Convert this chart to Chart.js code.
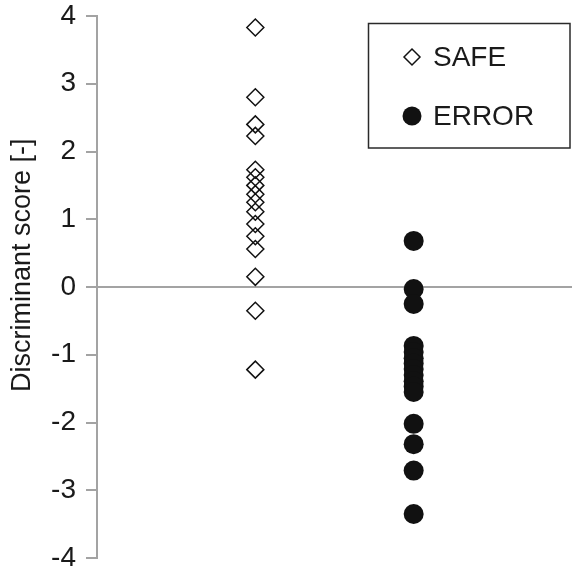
<!DOCTYPE html>
<html>
<head>
<meta charset="utf-8">
<script src="https://cdn.jsdelivr.net/npm/chart.js@4/dist/chart.umd.min.js"></script>
<style>
  html, body { margin: 0; padding: 0; background: #fff; }
  #wrap { width: 572px; height: 572px; }
</style>
</head>
<body>
<div id="wrap"><canvas id="c" width="572" height="572"></canvas></div>
<script>
const seriesLabels = ["SAFE", "ERROR"];
const safeValues = [3.83, 2.80, 2.40, 2.23, 1.73, 1.62, 1.50, 1.37, 1.25, 1.11, 0.93, 0.75, 0.56, 0.15, -0.35, -1.22];
const errorValues = [0.68, -0.03, -0.25, -0.87, -0.96, -1.05, -1.13, -1.21, -1.30, -1.39, -1.47, -1.55, -2.02, -2.32, -2.71, -3.35];
const groupPositions = [1, 2];
const yTicks = [-4, -3, -2, -1, 0, 1, 2, 3, 4];
const yTitle = "Discriminant score [-]";

const FONT = "'Liberation Sans', Arial, Helvetica, sans-serif";
const GRAY = "#a3a3a3";
const TEXT = "#1a1a1a";

const legendBox = {
  id: 'legendBox',
  afterDraw(chart) {
    const ctx = chart.ctx;
    ctx.save();
    // y-axis title
    ctx.save();
    ctx.translate(30, 392);
    ctx.rotate(-Math.PI / 2);
    ctx.font = "27px " + FONT;
    ctx.fillStyle = TEXT;
    ctx.textAlign = 'left';
    ctx.textBaseline = 'alphabetic';
    ctx.fillText(yTitle, 0, 0);
    ctx.restore();

    // legend box
    ctx.strokeStyle = "#2a2a2a";
    ctx.lineWidth = 1.5;
    ctx.strokeRect(368.5, 23.5, 201.5, 124.5);
    const rows = [57, 116];
    chart.data.datasets.forEach((ds, i) => {
      const y = rows[i];
      const x = 412;
      ctx.beginPath();
      if (i === 0) {
        const r = 8;
        ctx.moveTo(x - r, y); ctx.lineTo(x, y - r); ctx.lineTo(x + r, y); ctx.lineTo(x, y + r); ctx.closePath();
        ctx.lineWidth = 1.5; ctx.strokeStyle = "#111"; ctx.stroke();
      } else {
        ctx.arc(x, y, 9.5, 0, Math.PI * 2);
        ctx.fillStyle = "#111"; ctx.fill();
      }
      ctx.font = "28px " + FONT;
      ctx.fillStyle = TEXT;
      ctx.textAlign = 'left';
      ctx.textBaseline = 'middle';
      ctx.fillText(ds.label, 433, y + 1);
    });
    ctx.restore();
  }
};

new Chart(document.getElementById('c'), {
  type: 'scatter',
  data: {
    datasets: [
      {
        label: seriesLabels[0],
        data: safeValues.map(v => ({ x: groupPositions[0], y: v })),
        pointStyle: 'rectRot',
        pointRadius: 8.5,
        pointHoverRadius: 8.5,
        borderWidth: 1.5,
        borderColor: '#111',
        backgroundColor: 'rgba(0,0,0,0)'
      },
      {
        label: seriesLabels[1],
        data: errorValues.map(v => ({ x: groupPositions[1], y: v })),
        pointStyle: 'circle',
        pointRadius: 10,
        pointHoverRadius: 10,
        borderWidth: 0,
        borderColor: '#111',
        backgroundColor: '#111'
      }
    ]
  },
  options: {
    responsive: false,
    animation: false,
    events: [],
    layout: { autoPadding: false, padding: { top: 16, bottom: 14, left: 0, right: 0 } },
    plugins: { legend: { display: false }, tooltip: { enabled: false } },
    scales: {
      x: {
        type: 'linear', min: 0, max: 3, display: false
      },
      y: {
        type: 'linear', min: -4, max: 4,
        afterBuildTicks(scale) { scale.ticks = yTicks.map(v => ({ value: v })); },
        afterFit(scale) { scale.width = 97; scale.paddingTop = 0; scale.paddingBottom = 0; },
        border: { display: true, color: GRAY, width: 2 },
        grid: {
          display: true,
          drawOnChartArea: true,
          drawTicks: true,
          tickLength: 11,
          lineWidth: 2,
          tickColor: GRAY,
          color: c => (c.tick && c.tick.value === 0) ? GRAY : 'rgba(0,0,0,0)'
        },
        ticks: {
          padding: 10,
          color: TEXT,
          font: { family: FONT, size: 28, lineHeight: 0.2 },
          callback: v => String(v)
        }
      }
    }
  },
  plugins: [legendBox]
});
</script>
</body>
</html>
